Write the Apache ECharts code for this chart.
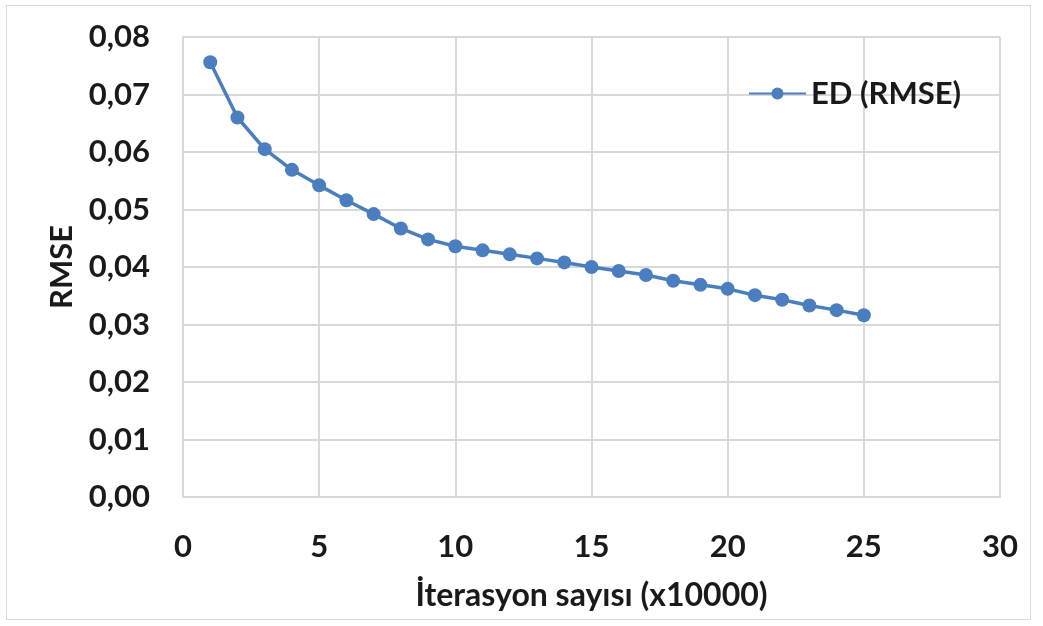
<!DOCTYPE html>
<html>
<head>
<meta charset="utf-8">
<script src="https://cdn.jsdelivr.net/npm/echarts@6/dist/echarts.min.js"></script>
<style>
  html, body { margin: 0; padding: 0; background: #fff; }
  #frame { position: absolute; left: 6px; top: 5px; width: 1025px; height: 615px; border: 1px solid #d9d9d9; box-sizing: border-box; }
  #chart { position: absolute; left: 0; top: 0; width: 1043px; height: 626px; }
</style>
</head>
<body>
<div id="frame"></div>
<div id="chart"></div>
<script>
// Iteration count (x10000) and the RMSE reached at each step
const iterations = [1, 2, 3, 4, 5, 6, 7, 8, 9, 10, 11, 12, 13, 14, 15, 16, 17, 18, 19, 20, 21, 22, 23, 24, 25];
const rmseValues = [0.0756, 0.0660, 0.0605, 0.0569, 0.0542, 0.0516, 0.0492, 0.0467, 0.0448, 0.0436,
                    0.0429, 0.0422, 0.0415, 0.0408, 0.0400, 0.0393, 0.0386, 0.0376, 0.0369, 0.0362,
                    0.0351, 0.0343, 0.0333, 0.0325, 0.0316];
const seriesName = 'ED (RMSE)';
const xTitle = 'İterasyon sayısı (x10000)';
const yTitle = 'RMSE';
const xRange = [0, 30, 5];      // min, max, step
const yRange = [0, 0.08, 0.01]; // min, max, step

const points = iterations.map((it, i) => [it, rmseValues[i]]);
const blue = '#4a7ebf';
const grid = '#d9d9d9';
const ink = '#1a1a1a';
const font = 'Lato, "Open Sans", sans-serif';

const chart = echarts.init(document.getElementById('chart'));
chart.setOption({
  backgroundColor: 'transparent',
  animation: false,
  grid: { left: 183, right: 43, top: 37, bottom: 129 },
  legend: {
    data: [seriesName],
    left: 748, top: 78, padding: 0,
    itemWidth: 57, itemHeight: 15, itemGap: 7,
    textStyle: { fontFamily: font, fontSize: 31, fontWeight: 'bold', color: ink }
  },
  xAxis: {
    type: 'value',
    min: xRange[0], max: xRange[1], interval: xRange[2],
    name: xTitle, nameLocation: 'middle', nameGap: 83,
    nameTextStyle: { fontFamily: font, fontSize: 32, fontWeight: 'bold', color: ink },
    axisLine: { show: true, lineStyle: { color: grid, width: 2 } },
    axisTick: { show: false },
    axisLabel: { margin: 34, fontFamily: font, fontSize: 31, fontWeight: 'bold', color: ink },
    splitLine: { show: true, lineStyle: { color: grid, width: 2 } }
  },
  yAxis: {
    type: 'value',
    min: yRange[0], max: yRange[1], interval: yRange[2],
    name: yTitle, nameLocation: 'middle', nameGap: 105, nameRotate: 90,
    nameTextStyle: { fontFamily: font, fontSize: 31, fontWeight: 'bold', color: ink },
    axisLine: { show: true, lineStyle: { color: grid, width: 2 } },
    axisTick: { show: false },
    axisLabel: {
      margin: 33, fontFamily: font, fontSize: 31, fontWeight: 'bold', color: ink,
      formatter: v => v.toFixed(2).replace('.', ',')
    },
    splitLine: { show: true, lineStyle: { color: grid, width: 2 } }
  },
  series: [{
    name: seriesName,
    type: 'line',
    data: points,
    symbol: 'circle',
    symbolSize: 14,
    lineStyle: { color: blue, width: 3.5 },
    itemStyle: { color: blue }
  }]
});
</script>
</body>
</html>
